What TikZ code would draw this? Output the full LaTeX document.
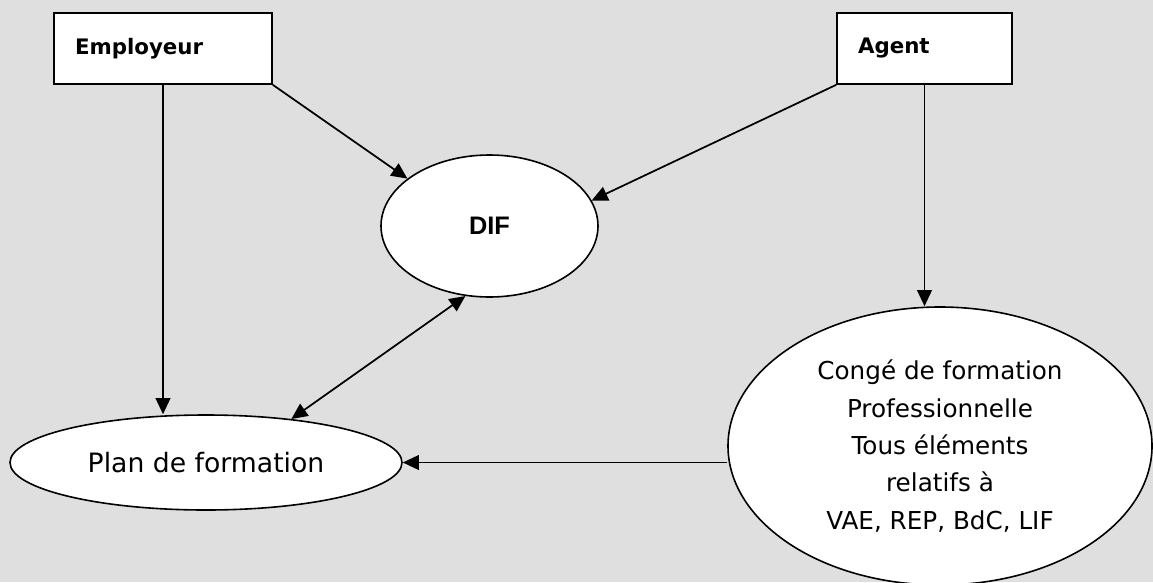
\documentclass[tikz,border=0pt]{standalone}
\usepackage{fontspec}
\setmainfont{DejaVu Sans}
\newfontfamily\arialfont{Liberation Sans}
\usetikzlibrary{shapes,arrows.meta}
\definecolor{bgcolor}{RGB}{223,223,223}

\begin{document}
\begin{tikzpicture}[
    x=0.75pt, y=-0.75pt,
    actor/.style={rectangle, fill=white, draw=black, line width=1.3pt, minimum height=53.25pt, inner xsep=15.75pt, align=left, font=\fontsize{16}{19}\selectfont\bfseries},
    bubble/.style={ellipse, fill=white, draw=black, line width=1.2pt, inner sep=0pt, align=center},
    arrow/.style={-{Triangle[length=12pt,width=11pt]}, line width=1.3pt, black}
]

% Background
\fill[bgcolor] (0,0) rectangle (1153,582);
\useasboundingbox (0,0) rectangle (1153,582);

% Actors
\node[actor, text width=132pt] (employeur) at (163,48.5) {Employeur};
\node[actor, text width=99.75pt] (agent) at (924.5,48.5) {Agent};

% DIF
\node[bubble, minimum width=162.75pt, minimum height=106.5pt, font=\arialfont\bfseries\fontsize{19}{22}\selectfont] (dif) at (489.5,226) {DIF};

% Plan de formation
\node[bubble, minimum width=294pt, minimum height=71.25pt, font=\fontsize{20}{24}\selectfont] (plan) at (206,462.5) {Plan de formation};

% Conge de formation
\node[bubble, minimum width=318pt, minimum height=208.5pt, font=\fontsize{18.5}{28}\selectfont] (conge) at (940,446) {Congé de formation\\Professionnelle\\Tous éléments\\relatifs à\\VAE, REP, BdC, LIF};

% Arrows
\draw[arrow] (employeur.south) -- (employeur.south |- plan.north);
\draw[arrow] (employeur.south east) -- (dif.150);
\draw[arrow] (agent.south west) -- (dif.14);
\draw[arrow] (agent.south) -- (agent.south |- conge.north);
\draw[arrow, {Triangle[length=12pt,width=11pt]}-{Triangle[length=12pt,width=11pt]}] (plan.27) -- (dif.251);
\draw[arrow] (plan.east -| conge.west) -- (plan.east);

\end{tikzpicture}
\end{document}
